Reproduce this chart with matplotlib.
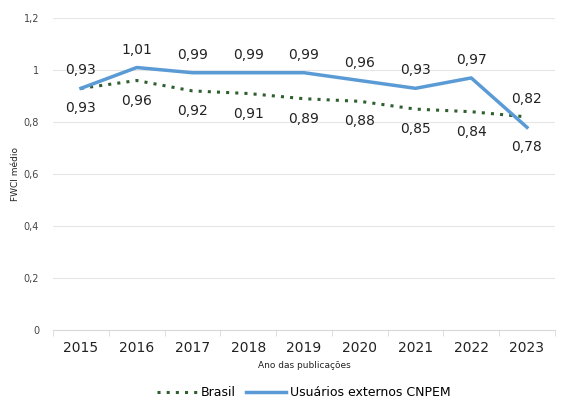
import numpy as np
import matplotlib.pyplot as plt
from matplotlib.ticker import FixedLocator

anos = ['2015', '2016', '2017', '2018', '2019', '2020', '2021', '2022', '2023']
brasil = [0.93, 0.96, 0.92, 0.91, 0.89, 0.88, 0.85, 0.84, 0.82]
cnpem = [0.93, 1.01, 0.99, 0.99, 0.99, 0.96, 0.93, 0.97, 0.78]

azul = '#5b9bd5'
verde = '#2f5f2f'

def fmt(v):
    return ('%.2f' % v).replace('.', ',')

fig = plt.figure(figsize=(5.65, 4.03), dpi=100)
ax = fig.add_axes([0.094, 0.181, 0.888, 0.774])

x = np.arange(len(anos))
ax.plot(x, brasil, color=verde, ls=(0, (1, 2)), lw=2.2, label='Brasil')
ax.plot(x, cnpem, color=azul, lw=2.5, label='Usuários externos CNPEM')

# rótulos: CNPEM acima, Brasil abaixo (invertido quando as linhas se cruzam)
for i in range(len(anos)):
    acima = 18 if cnpem[i] >= brasil[i] else -20
    ax.annotate(fmt(cnpem[i]), (x[i], cnpem[i]), textcoords='offset pixels',
                xytext=(0, acima), ha='center', va='center', fontsize=10, color='#222222')
    ax.annotate(fmt(brasil[i]), (x[i], brasil[i]), textcoords='offset pixels',
                xytext=(0, -acima - 2), ha='center', va='center', fontsize=10, color='#222222')

ax.set_xlim(-0.5, len(anos) - 0.5)
ax.set_ylim(0, 1.2)
ax.set_yticks(np.arange(0, 1.21, 0.2))
ax.set_yticklabels(['0', '0,2', '0,4', '0,6', '0,8', '1', '1,2'], fontsize=7, color='#444444')
ax.set_xticks(x)
ax.set_xticklabels(anos, fontsize=10, color='#222222')
ax.xaxis.set_minor_locator(FixedLocator(np.arange(-0.5, len(anos), 1)))
ax.tick_params(axis='x', which='major', length=0, pad=8)
ax.tick_params(axis='x', which='minor', length=4, color='#d9d9d9')
ax.tick_params(axis='y', length=0, pad=10)

ax.grid(axis='y', color='#e6e6e6', lw=0.8)
ax.set_axisbelow(True)
for s in ['top', 'right', 'left']:
    ax.spines[s].set_visible(False)
ax.spines['bottom'].set_color('#d9d9d9')

ax.set_ylabel('FWCI médio', fontsize=6.5, color='#222222')
ax.yaxis.set_label_coords(-0.065, 0.5)
ax.set_xlabel('Ano das publicações', fontsize=6.5, color='#222222', labelpad=4)

ax.legend(loc='center', bbox_to_anchor=(0.5, -0.2), ncol=2, frameon=False,
          fontsize=9, handlelength=3.2, handletextpad=0.3, columnspacing=0.8)

fig.savefig('out.png', dpi=100)
